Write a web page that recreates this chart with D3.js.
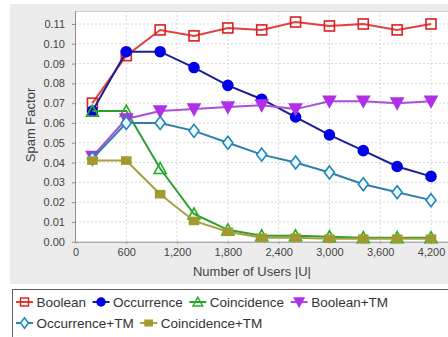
<!DOCTYPE html>
<html>
<head>
<meta charset="utf-8">
<script src="https://cdn.jsdelivr.net/npm/d3@7"></script>
<style>
  html, body { margin: 0; padding: 0; background: #ffffff; }
  svg { display: block; font-family: "Liberation Sans", Arial, sans-serif; }
</style>
</head>
<body>
<svg id="chart" width="448" height="337"></svg>
<script>
// Number of users on the x axis
const users = [200, 600, 1000, 1400, 1800, 2200, 2600, 3000, 3400, 3800, 4200];

// Spam factor per method
const boolean      = [0.070, 0.094, 0.107, 0.104, 0.108, 0.107, 0.111, 0.109, 0.110, 0.107, 0.110];
const occurrence   = [0.066, 0.096, 0.096, 0.088, 0.079, 0.072, 0.063, 0.054, 0.046, 0.038, 0.033];
const coincidence  = [0.066, 0.066, 0.037, 0.014, 0.006, 0.003, 0.003, 0.0025, 0.002, 0.002, 0.002];
const booleanTM    = [0.043, 0.062, 0.066, 0.067, 0.068, 0.069, 0.067, 0.071, 0.071, 0.070, 0.071];
const occurrenceTM = [0.042, 0.060, 0.060, 0.056, 0.050, 0.044, 0.040, 0.035, 0.029, 0.025, 0.021];
const coincidenceTM= [0.041, 0.041, 0.024, 0.0105, 0.005, 0.002, 0.002, 0.0015, 0.0015, 0.0015, 0.0015];

const xTicks = [0, 600, 1200, 1800, 2400, 3000, 3600, 4200];
const yTicks = [0, 0.01, 0.02, 0.03, 0.04, 0.05, 0.06, 0.07, 0.08, 0.09, 0.10, 0.11];

const seriesNames = ["Boolean", "Occurrence", "Coincidence", "Boolean+TM", "Occurrence+TM", "Coincidence+TM"];

const series = [
  { name: seriesNames[0], values: boolean,       line: "#e04040", stroke: "#dd2020", fill: "none",    shape: "square" },
  { name: seriesNames[1], values: occurrence,    line: "#1c1c98", stroke: "#0000e8", fill: "#0000e8", shape: "circle" },
  { name: seriesNames[2], values: coincidence,   line: "#2e9e2e", stroke: "#22b022", fill: "none",    shape: "triangle" },
  { name: seriesNames[3], values: booleanTM,     line: "#a850d8", stroke: "#b030e8", fill: "#b030e8", shape: "down" },
  { name: seriesNames[4], values: occurrenceTM,  line: "#2f7fa8", stroke: "#1e86b8", fill: "#eafaff", shape: "diamond" },
  { name: seriesNames[5], values: coincidenceTM, line: "#a8a040", stroke: "#a09a30", fill: "#a09a30", shape: "rect" }
];

const svg = d3.select("#chart");

// Panel backgrounds
svg.append("rect").attr("x", 10).attr("y", 4).attr("width", 438).attr("height", 280).attr("fill", "#ececec");

const plot = { left: 75, top: 11, right: 452, bottom: 242 };

const x = d3.scaleLinear().domain([0, 4200]).range([75.5, 431]);
const y = d3.scaleLinear().domain([0, 0.11]).range([241.7, 24]);

svg.append("rect")
  .attr("x", plot.left).attr("y", plot.top)
  .attr("width", plot.right - plot.left).attr("height", plot.bottom - plot.top)
  .attr("fill", "#ffffff");

// Grid lines
const grid = svg.append("g");
grid.selectAll("line.gx").data(xTicks.slice(1)).join("line")
  .attr("x1", d => x(d)).attr("x2", d => x(d))
  .attr("y1", plot.top).attr("y2", plot.bottom)
  .attr("stroke", "#d8d8d8").attr("stroke-width", 1).attr("stroke-dasharray", "2,2");
grid.selectAll("line.gy").data(yTicks.slice(1)).join("line")
  .attr("x1", plot.left).attr("x2", plot.right)
  .attr("y1", d => y(d)).attr("y2", d => y(d))
  .attr("stroke", "#d8d8d8").attr("stroke-width", 1).attr("stroke-dasharray", "2,2");

// Top frame
svg.append("line").attr("x1", plot.left).attr("x2", plot.right)
  .attr("y1", plot.top + 0.5).attr("y2", plot.top + 0.5).attr("stroke", "#d0d0d0");

// Axes
const xAxis = d3.axisBottom(x).tickValues(xTicks).tickSize(2).tickPadding(5)
  .tickFormat(d3.format(","));
const gx = svg.append("g").attr("transform", `translate(0,${y(0)})`).call(xAxis);
gx.select(".domain").attr("stroke", "#909090").attr("d", `M${plot.left},0.5H${plot.right}`);
gx.selectAll(".tick line").attr("stroke", "#909090");
gx.selectAll("text").attr("font-size", 11).attr("fill", "#444").attr("font-family", "Liberation Sans, Arial, sans-serif");

const yAxis = d3.axisLeft(y).tickValues(yTicks).tickSize(3).tickPadding(7)
  .tickFormat(d3.format(".2f"));
const gy = svg.append("g").attr("transform", `translate(${plot.left},0)`).call(yAxis);
gy.select(".domain").attr("stroke", "#909090").attr("d", `M0.5,${plot.top}V${y(0)}`);
gy.selectAll(".tick line").attr("stroke", "#909090");
gy.selectAll("text").attr("font-size", 11).attr("fill", "#444").attr("font-family", "Liberation Sans, Arial, sans-serif");

// Axis titles
svg.append("text").attr("x", 252).attr("y", 276)
  .attr("text-anchor", "middle").attr("font-size", 13).attr("fill", "#444")
  .text("Number of Users |U|");
svg.append("text").attr("transform", "translate(35,125) rotate(-90)")
  .attr("text-anchor", "middle").attr("font-size", 13).attr("fill", "#444")
  .text("Spam Factor");

// Marker shapes
function marker(g, shape) {
  if (shape === "square") return g.append("rect").attr("x", -5).attr("y", -5).attr("width", 10).attr("height", 10);
  if (shape === "circle") return g.append("circle").attr("r", 5);
  if (shape === "triangle") return g.append("path").attr("d", "M0,-6L6,5L-6,5Z");
  if (shape === "down") return g.append("path").attr("d", "M-6,-5L6,-5L0,6Z");
  if (shape === "diamond") return g.append("path").attr("d", "M0,-6.5L5,0L0,6.5L-5,0Z");
  if (shape === "rect") return g.append("rect").attr("x", -4.5).attr("y", -3.5).attr("width", 9).attr("height", 7);
}

const clip = svg.append("clipPath").attr("id", "plotclip");
clip.append("rect").attr("x", plot.left).attr("y", plot.top - 8).attr("width", plot.right - plot.left).attr("height", plot.bottom - plot.top + 16);

const layer = svg.append("g").attr("clip-path", "url(#plotclip)");
const line = d3.line().x((d, i) => x(users[i])).y(d => y(d));

series.forEach(s => {
  const g = layer.append("g");
  g.append("path").attr("d", line(s.values))
    .attr("fill", "none").attr("stroke", s.line).attr("stroke-width", 2);
  s.values.forEach((v, i) => {
    const m = g.append("g").attr("transform", `translate(${x(users[i])},${y(v)})`);
    marker(m, s.shape).attr("fill", s.fill).attr("stroke", s.stroke).attr("stroke-width", 1.6);
  });
});

// Legend
svg.append("rect").attr("x", 12.5).attr("y", 289.5).attr("width", 450).attr("height", 60)
  .attr("fill", "#ffffff").attr("stroke", "#606060");

const rows = [[0, 1, 2, 3], [4, 5]];
const rowY = [302, 323];
rows.forEach((row, r) => {
  let cx = 16;
  row.forEach(idx => {
    const s = series[idx];
    const item = svg.append("g").attr("transform", `translate(${cx},${rowY[r]})`);
    item.append("line").attr("x1", 0).attr("x2", 17).attr("y1", 0).attr("y2", 0)
      .attr("stroke", s.line).attr("stroke-width", 2);
    const m = item.append("g").attr("transform", "translate(8.5,0) scale(0.8)");
    marker(m, s.shape).attr("fill", s.fill).attr("stroke", s.stroke).attr("stroke-width", 1.8);
    const t = item.append("text").attr("x", 20.5).attr("y", 4.8)
      .attr("font-size", 13.5).attr("fill", "#333").text(s.name);
    cx += 20.5 + t.node().getComputedTextLength() + 6.5;
  });
});
</script>
</body>
</html>
